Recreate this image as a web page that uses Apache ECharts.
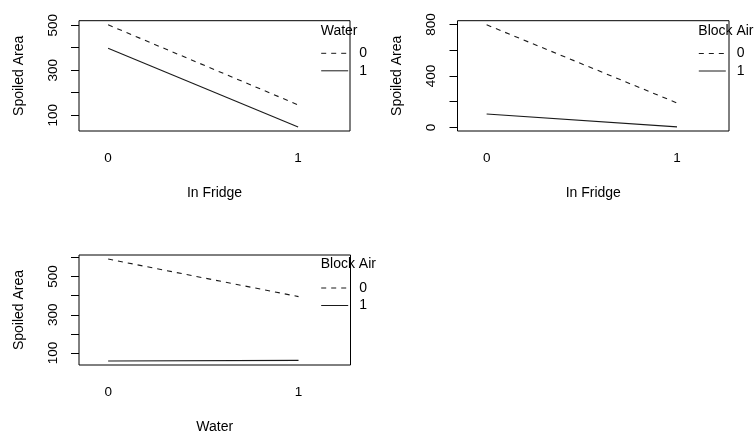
<!DOCTYPE html>
<html>
<head>
<meta charset="utf-8">
<script src="https://cdn.jsdelivr.net/npm/echarts@6/dist/echarts.min.js"></script>
<style>
html,body{margin:0;padding:0;background:#fff;}
#chart{width:755px;height:435px;}
</style>
</head>
<body>
<div id="chart"></div>
<script>
// x levels
const xLevels = [0, 1];
// Panel 1: Spoiled Area vs In Fridge, by Water
const fridgeWater0 = [502, 146];
const fridgeWater1 = [398, 48];
// Panel 2: Spoiled Area vs In Fridge, by Block Air
const fridgeBlock0 = [797, 190];
const fridgeBlock1 = [104, 4];
// Panel 3: Spoiled Area vs Water, by Block Air
const waterBlock0 = [591, 395];
const waterBlock1 = [59, 62];
// tick values
const p1Ticks = [100, 200, 300, 400, 500];
const p1Labels = [100, 300, 500];
const p2Ticks = [0, 200, 400, 600, 800];
const p2Labels = [0, 400, 800];
const p3Ticks = [100, 200, 300, 400, 500, 600];
const p3Labels = [100, 300, 500];
const legendLevels = ['0', '1'];

function pts(vals) { return xLevels.map((x, i) => [x, vals[i]]); }
function ylim(a, b) {
  const all = a.concat(b);
  const mn = Math.min(...all), mx = Math.max(...all);
  const pad = 0.04 * (mx - mn);
  return [mn - pad, mx + pad];
}

const FONT = 'Liberation Sans, Arial, sans-serif';
const grids = [
  {left: 79, top: 20.7, width: 271, height: 110.3},
  {left: 457.5, top: 20.7, width: 271.5, height: 110.3},
  {left: 79, top: 255, width: 271.5, height: 110.3}
];
const xNames = ['In Fridge', 'In Fridge', 'Water'];
const yTicks = [p1Ticks, p2Ticks, p3Ticks];
const yLabels = [p1Labels, p2Labels, p3Labels];
const ylims = [ylim(fridgeWater0, fridgeWater1), ylim(fridgeBlock0, fridgeBlock1), ylim(waterBlock0, waterBlock1)];
const seriesData = [[fridgeWater0, fridgeWater1], [fridgeBlock0, fridgeBlock1], [waterBlock0, waterBlock1]];
const legendTitles = ['Water', 'Block Air', 'Block Air'];
const legendPos = [
  {left: 320.7, titleTop: 24.5, top: 46.3},
  {left: 698.3, titleTop: 24, top: 46.5},
  {left: 320.7, titleTop: 257.5, top: 281}
];

const option = {
  animation: false,
  backgroundColor: '#fff',
  textStyle: {fontFamily: FONT},
  grid: grids.map(g => Object.assign({show: true, borderColor: '#000', borderWidth: 1, backgroundColor: 'transparent'}, g)),
  title: legendTitles.map((t, i) => ({
    text: t, left: legendPos[i].left, top: legendPos[i].titleTop, padding: 0,
    textStyle: {fontSize: 14, fontWeight: 'normal', color: '#000', fontFamily: FONT}
  })),
  legend: legendTitles.map((t, i) => ({
    data: legendLevels, orient: 'vertical', left: legendPos[i].left, top: legendPos[i].top,
    padding: 0, itemWidth: 27, itemHeight: 14, itemGap: 3.5, selectedMode: false,
    itemStyle: {opacity: 0, color: 'transparent', borderWidth: 0},
    lineStyle: {width: 1, color: '#1a1a1a'},
    textStyle: {fontSize: 14, color: '#000', fontFamily: FONT, padding: [0, 0, 0, 6]}
  })),
  xAxis: grids.map((g, i) => ({
    type: 'value', gridIndex: i, min: -0.153, max: 1.273,
    name: xNames[i], nameLocation: 'middle', nameGap: 55,
    nameTextStyle: {fontSize: 14, color: '#000', fontFamily: FONT},
    axisLine: {show: false, onZero: false}, axisTick: {show: false}, splitLine: {show: false},
    axisLabel: {customValues: xLevels, fontSize: 13.5, color: '#000', margin: 20.5, fontFamily: FONT}
  })),
  yAxis: grids.map((g, i) => ({
    type: 'value', gridIndex: i, min: ylims[i][0], max: ylims[i][1],
    name: 'Spoiled Area', nameLocation: 'middle', nameGap: 53,
    nameTextStyle: {fontSize: 14, color: '#000', fontFamily: FONT},
    axisLine: {show: false, onZero: false}, splitLine: {show: false},
    axisTick: {show: true, inside: false, length: 8, customValues: yTicks[i], lineStyle: {color: '#000', width: 1}},
    axisLabel: {customValues: yLabels[i], rotate: 90, fontSize: 13.5, color: '#000', margin: 19, fontFamily: FONT}
  })),
  series: []
};

seriesData.forEach((pair, i) => {
  pair.forEach((vals, j) => {
    option.series.push({
      type: 'line', name: legendLevels[j], xAxisIndex: i, yAxisIndex: i,
      data: pts(vals), symbol: 'none', silent: true,
      lineStyle: {color: '#1a1a1a', width: 1.1, type: j === 0 ? [5, 5] : 'solid'},
      itemStyle: {color: '#1a1a1a'}
    });
  });
});

const chart = echarts.init(document.getElementById('chart'), null, {renderer: 'canvas'});
chart.setOption(option);
</script>
</body>
</html>
